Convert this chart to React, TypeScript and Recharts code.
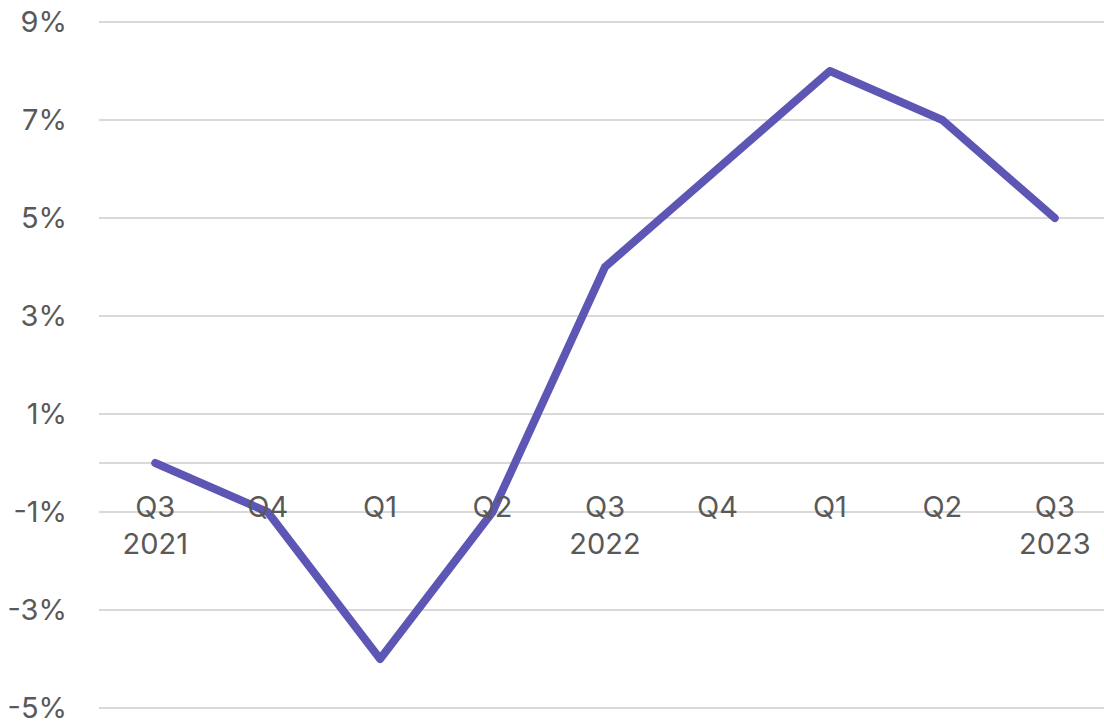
import React from 'react';
import { LineChart, Line, XAxis, YAxis, CartesianGrid, ReferenceLine } from 'recharts';

const quarters = ['Q3', 'Q4', 'Q1', 'Q2', 'Q3', 'Q4', 'Q1', 'Q2', 'Q3'];
const years = ['2021', '', '', '', '2022', '', '', '', '2023'];
const growth = [0, -1, -4, -1, 4, 6, 8, 7, 5];
const yTicks = [-5, -3, -1, 1, 3, 5, 7, 9];

const Y_MIN = -5;
const Y_MAX = 9;
const MARGIN_TOP = 22;
const MARGIN_BOTTOM = 17;
const CHART_W = 1111;
const CHART_H = 725;
const Y_AXIS_W = 99;
const PLOT_H = CHART_H - MARGIN_TOP - MARGIN_BOTTOM;
const PLOT_W = CHART_W - Y_AXIS_W;
const HALF_BAND = PLOT_W / quarters.length / 2;
const ZERO_OFFSET = (PLOT_H * (0 - Y_MIN)) / (Y_MAX - Y_MIN);

const data = quarters.map((q, i) => ({ key: String(i), quarter: q, year: years[i], value: growth[i] }));

const TEXT = '#595959';
const FONT = 'Inter, "Noto Sans", sans-serif';

const XTick = (props: any) => {
  const { x, y, payload } = props;
  const d = data[Number(payload.value)];
  if (!d) return null;
  const baseY = y - ZERO_OFFSET;
  return (
    <g>
      <text x={x} y={baseY + 48} textAnchor="middle" fill={TEXT} fontSize={29} fontFamily={FONT}>
        {d.quarter}
      </text>
      {d.year ? (
        <text x={x} y={baseY + 85} textAnchor="middle" fill={TEXT} fontSize={29} fontFamily={FONT}>
          {d.year}
        </text>
      ) : null}
    </g>
  );
};

export default function App() {
  return (
    <div style={{ position: 'fixed', left: 0, top: 0, width: 1104, height: 725, overflow: 'hidden', background: '#fff' }}>
      <LineChart width={CHART_W} height={CHART_H} data={data} margin={{ top: MARGIN_TOP, right: 0, bottom: MARGIN_BOTTOM - 1, left: 0 }}>
        <CartesianGrid vertical={false} stroke="#d9d9d9" strokeWidth={2} />
        <ReferenceLine y={0} stroke="#d9d9d9" strokeWidth={2} />
        <XAxis
          dataKey="key"
          height={1}
          axisLine={false}
          tickLine={false}
          interval={0}
          tickMargin={0}
          padding={{ left: HALF_BAND, right: HALF_BAND }}
          tick={(p: any) => <XTick {...p} />}
        />
        <YAxis
          width={Y_AXIS_W}
          domain={[Y_MIN, Y_MAX]}
          ticks={yTicks}
          axisLine={false}
          tickLine={false}
          tickMargin={26}
          tickFormatter={(v: number) => `${v}%`}
          tick={{ fill: TEXT, fontSize: 29, fontFamily: FONT }}
        />
        <Line
          type="linear"
          dataKey="value"
          stroke="#5E56B4"
          strokeWidth={8}
          strokeLinecap="round"
          strokeLinejoin="round"
          dot={false}
          activeDot={false}
          isAnimationActive={false}
        />
      </LineChart>
    </div>
  );
}
